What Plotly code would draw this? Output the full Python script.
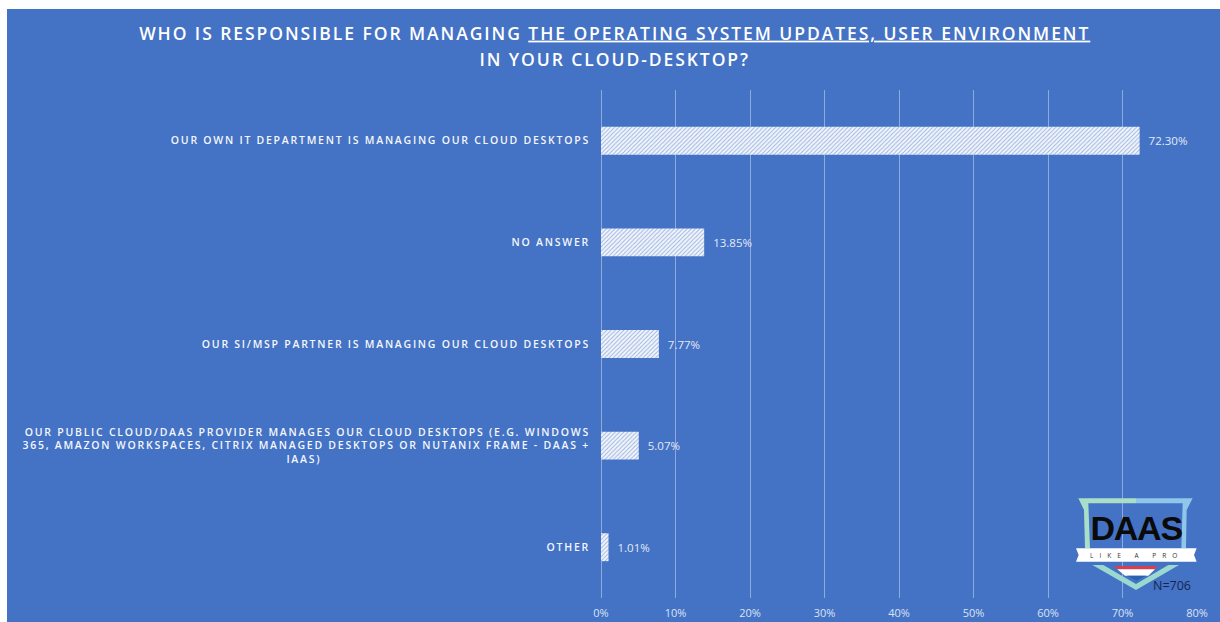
import plotly.graph_objects as go

categories = [
    "OUR OWN IT DEPARTMENT IS MANAGING OUR CLOUD DESKTOPS",
    "NO ANSWER",
    "OUR SI/MSP PARTNER IS MANAGING OUR CLOUD DESKTOPS",
    "OUR PUBLIC CLOUD/DAAS PROVIDER MANAGES OUR CLOUD DESKTOPS (E.G. WINDOWS<br>365, AMAZON WORKSPACES, CITRIX MANAGED DESKTOPS OR NUTANIX FRAME - DAAS +<br>IAAS)" + "\u00a0" * 60,
    "OTHER",
]
values = [72.30, 13.85, 7.77, 5.07, 1.01]
x_ticks = [0, 10, 20, 30, 40, 50, 60, 70, 80]
x_tick_labels = ["0%", "10%", "20%", "30%", "40%", "50%", "60%", "70%", "80%"]
title_text = ("WHO IS RESPONSIBLE FOR MANAGING <u>THE OPERATING SYSTEM UPDATES, USER ENVIRONMENT</u>"
              "<br>IN YOUR CLOUD-DESKTOP?")
sample_note = "N=706"

BLUE = "#4472c4"
W, H = 1213, 613
ML, MR, MT, MB = 594, 23, 81, 24


def px(x):
    return (x - 7 - ML) / (W - ML - MR)


def py(y):
    return (H + 9 - MB - y) / (H - MT - MB)


def zoom_pt(zx, zy):
    return px(1040 + zx / 3), py(480 + zy / 3)


def poly(points, fill):
    d = "M" + " L".join("%.5f,%.5f" % zoom_pt(*p) for p in points) + " Z"
    return dict(type="path", xref="paper", yref="paper", path=d,
                fillcolor=fill, line=dict(width=0), layer="above")


logo = [
    poly([(115, 55), (288, 55), (288, 70), (145, 70), (150, 205), (135, 205), (132, 90)], "#a9dfc9"),
    poly([(288, 55), (458, 55), (440, 90), (438, 205), (424, 205), (428, 70), (288, 70)], "#8fc7ea"),
    poly([(108, 205), (470, 205), (462, 225), (470, 245), (108, 245), (116, 225)], "#ffffff"),
    poly([(157, 255), (190, 255), (288, 312), (385, 255), (417, 255), (288, 330)], "#9bd8cf"),
    poly([(222, 258), (352, 258), (345, 268), (232, 268)], "#d9414a"),
    poly([(232, 268), (345, 268), (325, 287), (255, 287)], "#ffffff"),
    poly([(262, 287), (318, 287), (290, 302)], "#2a62b0"),
]

fig = go.Figure(go.Bar(
    x=values,
    y=categories,
    orientation="h",
    width=0.275,
    marker=dict(
        color="#f2f5fb",
        line=dict(width=0),
        pattern=dict(shape="/", fgcolor=BLUE, bgcolor="#f2f5fb", size=3, solidity=0.33),
    ),
    texttemplate="\u00a0\u00a0%{x:.2f}%",
    textposition="outside",
    cliponaxis=False,
    textfont=dict(family="Open Sans", size=11.5, color="#e3eaf7"),
))

fig.update_layout(
    width=W, height=H, autosize=False,
    margin=dict(l=ML, r=MR, t=MT, b=MB, pad=0),
    paper_bgcolor=BLUE, plot_bgcolor=BLUE,
    showlegend=False,
    title=dict(text=title_text, x=0.501, xanchor="center", y=0.95, yanchor="top", automargin=False,
               font=dict(family="Open Sans", size=17.5, color="#ffffff", weight=600)),
    xaxis=dict(range=[0, 80], tickvals=x_ticks, ticktext=x_tick_labels, showgrid=True, automargin=False,
               gridcolor="#8ea9dc", gridwidth=1, zeroline=True, zerolinecolor="#8ea9dc",
               zerolinewidth=1, showline=False, ticks="", ticklen=0, ticklabelstandoff=7,
               tickfont=dict(family="Open Sans", size=11, color="#dbe4f5")),
    yaxis=dict(autorange="reversed", showgrid=False, zeroline=False, showline=False, automargin=False,
               ticks="", ticklabelstandoff=10,
               tickfont=dict(family="Open Sans", size=10.5, color="#f4f7fc", weight=600)),
    shapes=logo,
    annotations=[
        dict(text="<b>DAAS</b>", xref="paper", yref="paper", x=zoom_pt(288, 143)[0], y=zoom_pt(288, 143)[1],
             showarrow=False, xanchor="center", yanchor="middle",
             font=dict(family="Liberation Sans", size=34, color="#0a0a0a")),
        dict(text="LIKE A PRO", xref="paper", yref="paper", x=zoom_pt(288, 226)[0], y=zoom_pt(288, 226)[1],
             showarrow=False, xanchor="center", yanchor="middle",
             font=dict(family="Open Sans", size=6.5, color="#333333")),
        dict(text=sample_note, xref="paper", yref="paper", x=zoom_pt(397, 317)[0], y=zoom_pt(397, 317)[1],
             showarrow=False, xanchor="center", yanchor="middle",
             font=dict(family="Open Sans", size=12.5, color="#14284f")),
    ],
)

post = """
document.documentElement.style.overflow='hidden';
document.body.style.margin='9px 0 0 7px';
document.body.style.background='#ffffff';
document.querySelectorAll('.ytick text').forEach(function(t){t.style.letterSpacing='1.75px';});
var tt=document.querySelector('.gtitle');
if(tt){tt.style.letterSpacing='1.93px';
 tt.querySelectorAll('tspan.line').forEach(function(s,i){if(i>0){s.setAttribute('dy','1.53em');}});}
var an=document.querySelectorAll('.annotation-text');
if(an.length>1){an[0].style.letterSpacing='-1.2px';an[1].style.letterSpacing='6px';}
"""
fig.write_html("out.html", post_script=post, config=dict(displayModeBar=False))
